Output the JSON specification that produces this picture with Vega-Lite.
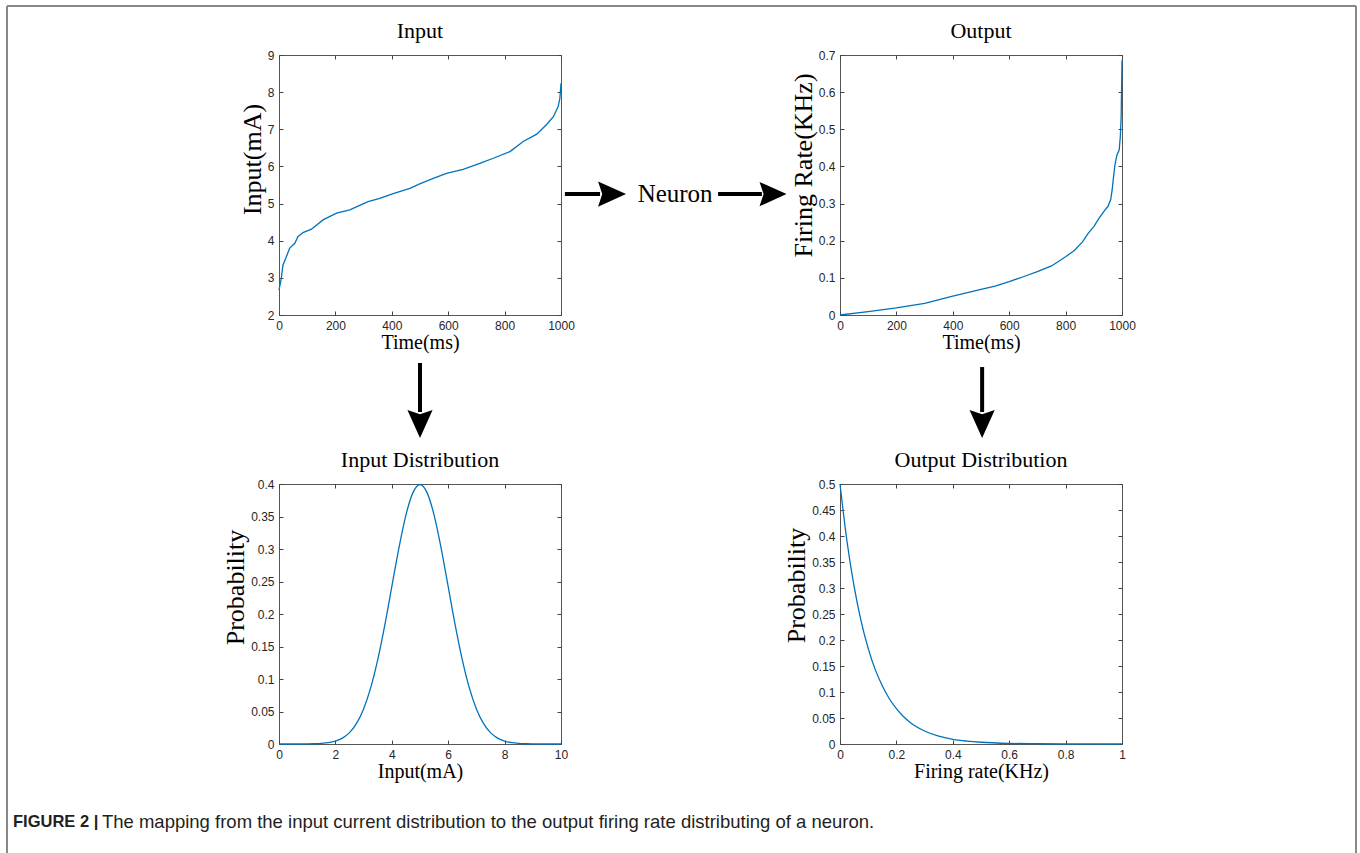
{
 "$schema": "https://vega.github.io/schema/vega-lite/v6.json",
 "background": "white",
 "padding": {"left": 6, "top": 5, "right": 0, "bottom": 0},
 "columns": 5,
 "spacing": 0,
 "bounds": "flush",
 "config": {
  "view": {"stroke": null},
  "axis": {"domain": false, "grid": false, "tickSize": -4, "tickColor": "#444", "tickWidth": 1, "labelFont": "Liberation Sans Narrow, Liberation Sans, sans-serif", "labelFontSize": 12, "labelColor": "#262626", "labelPadding": 9, "labelFlush": false, "labelOverlap": false, "titleFont": "Liberation Serif", "titleFontWeight": "normal", "titleColor": "#000"},
  "axisX": {"titleFontSize": 20, "titlePadding": 1},
  "axisY": {"titleFontSize": 26, "titlePadding": 2},
  "title": {"font": "Liberation Serif", "fontSize": 22, "fontWeight": "normal", "color": "#000", "offset": 6, "frame": "group", "anchor": "middle"}
 },
 "datasets": {
  "input": [
   {"time": 0, "input": 2.67}, {"time": 8, "input": 2.98}, {"time": 14, "input": 3.34}, {"time": 26, "input": 3.57},
   {"time": 38, "input": 3.8}, {"time": 56, "input": 3.93}, {"time": 67, "input": 4.11}, {"time": 85, "input": 4.22},
   {"time": 115, "input": 4.31}, {"time": 156, "input": 4.56}, {"time": 204, "input": 4.74}, {"time": 251, "input": 4.83},
   {"time": 298, "input": 4.99}, {"time": 316, "input": 5.05}, {"time": 357, "input": 5.14}, {"time": 405, "input": 5.27},
   {"time": 464, "input": 5.41}, {"time": 499, "input": 5.53}, {"time": 547, "input": 5.68}, {"time": 594, "input": 5.81},
   {"time": 653, "input": 5.92}, {"time": 712, "input": 6.08}, {"time": 760, "input": 6.22}, {"time": 819, "input": 6.4},
   {"time": 866, "input": 6.67}, {"time": 914, "input": 6.87}, {"time": 949, "input": 7.13}, {"time": 973, "input": 7.34},
   {"time": 990, "input": 7.61}, {"time": 996, "input": 7.83}, {"time": 1000, "input": 8.24}
  ],
  "output": [
   {"time": 0, "rate": 0}, {"time": 100, "rate": 0.009}, {"time": 200, "rate": 0.019}, {"time": 300, "rate": 0.031},
   {"time": 400, "rate": 0.051}, {"time": 500, "rate": 0.069}, {"time": 550, "rate": 0.078}, {"time": 600, "rate": 0.09},
   {"time": 650, "rate": 0.103}, {"time": 700, "rate": 0.117}, {"time": 750, "rate": 0.132}, {"time": 800, "rate": 0.157},
   {"time": 830, "rate": 0.173}, {"time": 860, "rate": 0.197}, {"time": 880, "rate": 0.22}, {"time": 900, "rate": 0.238},
   {"time": 920, "rate": 0.262}, {"time": 940, "rate": 0.283}, {"time": 950, "rate": 0.292}, {"time": 960, "rate": 0.311},
   {"time": 965, "rate": 0.336}, {"time": 970, "rate": 0.372}, {"time": 975, "rate": 0.404}, {"time": 982, "rate": 0.431},
   {"time": 990, "rate": 0.444}, {"time": 994, "rate": 0.48}, {"time": 997, "rate": 0.533}, {"time": 1000, "rate": 0.686}
  ],
  "inputDist": [
   {"current": 0, "probability": 0}, {"current": 0.5, "probability": 0.00002}, {"current": 1, "probability": 0.00013},
   {"current": 1.25, "probability": 0.00035}, {"current": 1.5, "probability": 0.00087}, {"current": 1.75, "probability": 0.002},
   {"current": 2, "probability": 0.0044}, {"current": 2.25, "probability": 0.0091}, {"current": 2.5, "probability": 0.0175},
   {"current": 2.75, "probability": 0.0317}, {"current": 3, "probability": 0.054}, {"current": 3.25, "probability": 0.0863},
   {"current": 3.5, "probability": 0.1295}, {"current": 3.75, "probability": 0.1826}, {"current": 4, "probability": 0.242},
   {"current": 4.25, "probability": 0.3011}, {"current": 4.5, "probability": 0.3521}, {"current": 4.75, "probability": 0.3867},
   {"current": 5, "probability": 0.3989}, {"current": 5.25, "probability": 0.3867}, {"current": 5.5, "probability": 0.3521},
   {"current": 5.75, "probability": 0.3011}, {"current": 6, "probability": 0.242}, {"current": 6.25, "probability": 0.1826},
   {"current": 6.5, "probability": 0.1295}, {"current": 6.75, "probability": 0.0863}, {"current": 7, "probability": 0.054},
   {"current": 7.25, "probability": 0.0317}, {"current": 7.5, "probability": 0.0175}, {"current": 7.75, "probability": 0.0091},
   {"current": 8, "probability": 0.0044}, {"current": 8.25, "probability": 0.002}, {"current": 8.5, "probability": 0.00087},
   {"current": 8.75, "probability": 0.00035}, {"current": 9, "probability": 0.00013}, {"current": 9.5, "probability": 0.00002},
   {"current": 10, "probability": 0}
  ],
  "outputDist": [
   {"rate": 0, "probability": 0.5}, {"rate": 0.025, "probability": 0.389}, {"rate": 0.05, "probability": 0.303},
   {"rate": 0.075, "probability": 0.236}, {"rate": 0.1, "probability": 0.184}, {"rate": 0.125, "probability": 0.143},
   {"rate": 0.15, "probability": 0.112}, {"rate": 0.175, "probability": 0.087}, {"rate": 0.2, "probability": 0.068},
   {"rate": 0.225, "probability": 0.053}, {"rate": 0.25, "probability": 0.041}, {"rate": 0.3, "probability": 0.025},
   {"rate": 0.35, "probability": 0.015}, {"rate": 0.4, "probability": 0.009}, {"rate": 0.45, "probability": 0.0056},
   {"rate": 0.5, "probability": 0.0034}, {"rate": 0.6, "probability": 0.0012}, {"rate": 0.7, "probability": 0.0005},
   {"rate": 0.8, "probability": 0.0002}, {"rate": 0.9, "probability": 0.0001}, {"rate": 1, "probability": 0}
  ]
 },
 "concat": [
  {"width": 272, "height": 49, "data": {"values": [{}]}, "layer": [
   {"mark": {"type": "rule", "color": "#888", "strokeWidth": 2}, "encoding": {"x": {"datum": 0, "type": "quantitative", "scale": {"domain": [0, 1]}, "axis": null}}},
   {"mark": {"type": "rule", "color": "#888", "strokeWidth": 2}, "encoding": {"y": {"datum": 1, "type": "quantitative", "scale": {"domain": [0, 1]}, "axis": null}}}
  ]},
  {"width": 282, "height": 49, "data": {"values": [{}]}, "mark": {"type": "rule", "color": "#888", "strokeWidth": 2}, "encoding": {"y": {"datum": 1, "type": "quantitative", "scale": {"domain": [0, 1]}, "axis": null}}},
  {"width": 279, "height": 49, "data": {"values": [{}]}, "mark": {"type": "rule", "color": "#888", "strokeWidth": 2}, "encoding": {"y": {"datum": 1, "type": "quantitative", "scale": {"domain": [0, 1]}, "axis": null}}},
  {"width": 282, "height": 49, "data": {"values": [{}]}, "mark": {"type": "rule", "color": "#888", "strokeWidth": 2}, "encoding": {"y": {"datum": 1, "type": "quantitative", "scale": {"domain": [0, 1]}, "axis": null}}},
  {"width": 234, "height": 49, "data": {"values": [{}]}, "layer": [
   {"mark": {"type": "rule", "color": "#888", "strokeWidth": 2}, "encoding": {"x": {"datum": 1, "type": "quantitative", "scale": {"domain": [0, 1]}, "axis": null}}},
   {"mark": {"type": "rule", "color": "#888", "strokeWidth": 2}, "encoding": {"y": {"datum": 1, "type": "quantitative", "scale": {"domain": [0, 1]}, "axis": null}}}
  ]},

  {"width": 272, "height": 260, "data": {"values": [{}]}, "mark": {"type": "rule", "color": "#888", "strokeWidth": 2}, "encoding": {"x": {"datum": 0, "type": "quantitative", "scale": {"domain": [0, 1]}, "axis": null}}},
  {
   "width": 282, "height": 260,
   "view": {"stroke": "#555", "strokeWidth": 1},
   "title": "Input",
   "data": {"name": "input"},
   "layer": [
    {"mark": {"type": "line", "color": "#0072BD", "strokeWidth": 1.3},
     "encoding": {
      "x": {"field": "time", "type": "quantitative", "scale": {"domain": [0, 1000], "nice": false}, "axis": {"values": [0, 200, 400, 600, 800, 1000], "format": "d", "title": "Time(ms)"}},
      "y": {"field": "input", "type": "quantitative", "scale": {"domain": [2, 9], "nice": false, "zero": false}, "axis": {"values": [2, 3, 4, 5, 6, 7, 8, 9], "title": "Input(mA)", "titleY": 104}}}},
    {"mark": {"type": "line", "opacity": 0},
     "encoding": {
      "x": {"field": "time", "type": "quantitative", "scale": {"domain": [0, 1000], "nice": false}, "axis": {"orient": "top", "values": [0, 200, 400, 600, 800, 1000], "labels": false, "title": null}},
      "y": {"field": "input", "type": "quantitative", "scale": {"domain": [2, 9], "nice": false, "zero": false}, "axis": {"orient": "right", "values": [2, 3, 4, 5, 6, 7, 8, 9], "labels": false, "title": null}}}}
   ],
   "resolve": {"axis": {"x": "independent", "y": "independent"}}
  },
  {"width": 279, "height": 260, "data": {"values": [{}]}, "layer": [
   {"mark": {"type": "rule", "color": "black", "strokeWidth": 4}, "encoding": {"x": {"datum": 0.014, "type": "quantitative", "scale": {"domain": [0, 1]}, "axis": null}, "x2": {"datum": 0.14}, "y": {"datum": 0.465, "type": "quantitative", "scale": {"domain": [0, 1]}, "axis": null}}},
   {"mark": {"type": "point", "shape": "M1,0L-1,-0.9L-0.7,0L-1,0.9Z", "filled": true, "color": "black", "opacity": 1, "size": 784}, "encoding": {"x": {"datum": 0.183, "type": "quantitative"}, "y": {"datum": 0.465, "type": "quantitative"}}},
   {"mark": {"type": "text", "font": "Liberation Serif", "fontSize": 25, "color": "black", "align": "center", "baseline": "middle"}, "encoding": {"x": {"datum": 0.409, "type": "quantitative"}, "y": {"datum": 0.465, "type": "quantitative"}, "text": {"value": "Neuron"}}},
   {"mark": {"type": "rule", "color": "black", "strokeWidth": 4}, "encoding": {"x": {"datum": 0.563, "type": "quantitative"}, "x2": {"datum": 0.72}, "y": {"datum": 0.465, "type": "quantitative"}}},
   {"mark": {"type": "point", "shape": "M1,0L-1,-0.9L-0.7,0L-1,0.9Z", "filled": true, "color": "black", "opacity": 1, "size": 729}, "encoding": {"x": {"datum": 0.76, "type": "quantitative"}, "y": {"datum": 0.465, "type": "quantitative"}}}
  ]},
  {
   "width": 282, "height": 260,
   "view": {"stroke": "#555", "strokeWidth": 1},
   "title": "Output",
   "data": {"name": "output"},
   "layer": [
    {"mark": {"type": "line", "color": "#0072BD", "strokeWidth": 1.3},
     "encoding": {
      "x": {"field": "time", "type": "quantitative", "scale": {"domain": [0, 1000], "nice": false}, "axis": {"values": [0, 200, 400, 600, 800, 1000], "format": "d", "title": "Time(ms)"}},
      "y": {"field": "rate", "type": "quantitative", "scale": {"domain": [0, 0.7], "nice": false}, "axis": {"values": [0, 0.1, 0.2, 0.3, 0.4, 0.5, 0.6, 0.7], "format": "~g", "title": "Firing Rate(KHz)", "titleY": 110}}}},
    {"mark": {"type": "line", "opacity": 0},
     "encoding": {
      "x": {"field": "time", "type": "quantitative", "scale": {"domain": [0, 1000], "nice": false}, "axis": {"orient": "top", "values": [0, 200, 400, 600, 800, 1000], "labels": false, "title": null}},
      "y": {"field": "rate", "type": "quantitative", "scale": {"domain": [0, 0.7], "nice": false}, "axis": {"orient": "right", "values": [0, 0.1, 0.2, 0.3, 0.4, 0.5, 0.6, 0.7], "labels": false, "title": null}}}}
   ],
   "resolve": {"axis": {"x": "independent", "y": "independent"}}
  },
  {"width": 234, "height": 260, "data": {"values": [{}]}, "mark": {"type": "rule", "color": "#888", "strokeWidth": 2}, "encoding": {"x": {"datum": 1, "type": "quantitative", "scale": {"domain": [0, 1]}, "axis": null}}},

  {"width": 272, "height": 169, "data": {"values": [{}]}, "mark": {"type": "rule", "color": "#888", "strokeWidth": 2}, "encoding": {"x": {"datum": 0, "type": "quantitative", "scale": {"domain": [0, 1]}, "axis": null}}},
  {"width": 282, "height": 169, "data": {"values": [{}]}, "layer": [
   {"mark": {"type": "rule", "color": "black", "strokeWidth": 4}, "encoding": {"x": {"datum": 0.5, "type": "quantitative", "scale": {"domain": [0, 1]}, "axis": null}, "y": {"datum": 0.716, "type": "quantitative", "scale": {"domain": [0, 1]}, "axis": null}, "y2": {"datum": 0.426}}},
   {"mark": {"type": "point", "shape": "M0,1L-0.9,-1L0,-0.7L0.9,-1Z", "filled": true, "color": "black", "opacity": 1, "size": 784}, "encoding": {"x": {"datum": 0.5, "type": "quantitative"}, "y": {"datum": 0.355, "type": "quantitative"}}}
  ]},
  {"width": 279, "height": 169, "data": {"values": []}, "mark": "point"},
  {"width": 282, "height": 169, "data": {"values": [{}]}, "layer": [
   {"mark": {"type": "rule", "color": "black", "strokeWidth": 4}, "encoding": {"x": {"datum": 0.504, "type": "quantitative", "scale": {"domain": [0, 1]}, "axis": null}, "y": {"datum": 0.692, "type": "quantitative", "scale": {"domain": [0, 1]}, "axis": null}, "y2": {"datum": 0.426}}},
   {"mark": {"type": "point", "shape": "M0,1L-0.9,-1L0,-0.7L0.9,-1Z", "filled": true, "color": "black", "opacity": 1, "size": 784}, "encoding": {"x": {"datum": 0.504, "type": "quantitative"}, "y": {"datum": 0.355, "type": "quantitative"}}}
  ]},
  {"width": 234, "height": 169, "data": {"values": [{}]}, "mark": {"type": "rule", "color": "#888", "strokeWidth": 2}, "encoding": {"x": {"datum": 1, "type": "quantitative", "scale": {"domain": [0, 1]}, "axis": null}}},

  {"width": 272, "height": 260, "data": {"values": [{}]}, "mark": {"type": "rule", "color": "#888", "strokeWidth": 2}, "encoding": {"x": {"datum": 0, "type": "quantitative", "scale": {"domain": [0, 1]}, "axis": null}}},
  {
   "width": 282, "height": 260,
   "view": {"stroke": "#555", "strokeWidth": 1},
   "title": "Input Distribution",
   "data": {"name": "inputDist"},
   "layer": [
    {"mark": {"type": "line", "color": "#0072BD", "strokeWidth": 1.3, "interpolate": "monotone"},
     "encoding": {
      "x": {"field": "current", "type": "quantitative", "scale": {"domain": [0, 10], "nice": false}, "axis": {"values": [0, 2, 4, 6, 8, 10], "title": "Input(mA)"}},
      "y": {"field": "probability", "type": "quantitative", "scale": {"domain": [0, 0.4], "nice": false}, "axis": {"values": [0, 0.05, 0.1, 0.15, 0.2, 0.25, 0.3, 0.35, 0.4], "format": "~g", "title": "Probability", "titleY": 103}}}},
    {"mark": {"type": "line", "opacity": 0},
     "encoding": {
      "x": {"field": "current", "type": "quantitative", "scale": {"domain": [0, 10], "nice": false}, "axis": {"orient": "top", "values": [0, 2, 4, 6, 8, 10], "labels": false, "title": null}},
      "y": {"field": "probability", "type": "quantitative", "scale": {"domain": [0, 0.4], "nice": false}, "axis": {"orient": "right", "values": [0, 0.05, 0.1, 0.15, 0.2, 0.25, 0.3, 0.35, 0.4], "labels": false, "title": null}}}}
   ],
   "resolve": {"axis": {"x": "independent", "y": "independent"}}
  },
  {"width": 279, "height": 260, "data": {"values": []}, "mark": "point"},
  {
   "width": 282, "height": 260,
   "view": {"stroke": "#555", "strokeWidth": 1},
   "title": "Output Distribution",
   "data": {"name": "outputDist"},
   "layer": [
    {"mark": {"type": "line", "color": "#0072BD", "strokeWidth": 1.3, "interpolate": "monotone"},
     "encoding": {
      "x": {"field": "rate", "type": "quantitative", "scale": {"domain": [0, 1], "nice": false}, "axis": {"values": [0, 0.2, 0.4, 0.6, 0.8, 1], "format": "~g", "title": "Firing rate(KHz)"}},
      "y": {"field": "probability", "type": "quantitative", "scale": {"domain": [0, 0.5], "nice": false}, "axis": {"values": [0, 0.05, 0.1, 0.15, 0.2, 0.25, 0.3, 0.35, 0.4, 0.45, 0.5], "format": "~g", "title": "Probability", "titleY": 101}}}},
    {"mark": {"type": "line", "opacity": 0},
     "encoding": {
      "x": {"field": "rate", "type": "quantitative", "scale": {"domain": [0, 1], "nice": false}, "axis": {"orient": "top", "values": [0, 0.2, 0.4, 0.6, 0.8, 1], "labels": false, "title": null}},
      "y": {"field": "probability", "type": "quantitative", "scale": {"domain": [0, 0.5], "nice": false}, "axis": {"orient": "right", "values": [0, 0.05, 0.1, 0.15, 0.2, 0.25, 0.3, 0.35, 0.4, 0.45, 0.5], "labels": false, "title": null}}}}
   ],
   "resolve": {"axis": {"x": "independent", "y": "independent"}}
  },
  {"width": 234, "height": 260, "data": {"values": [{}]}, "mark": {"type": "rule", "color": "#888", "strokeWidth": 2}, "encoding": {"x": {"datum": 1, "type": "quantitative", "scale": {"domain": [0, 1]}, "axis": null}}},

  {"width": 272, "height": 109, "data": {"values": [{}]}, "layer": [
   {"mark": {"type": "rule", "color": "#888", "strokeWidth": 2}, "encoding": {"x": {"datum": 0, "type": "quantitative", "scale": {"domain": [0, 1]}, "axis": null}}},
   {"mark": {"type": "text", "font": "Liberation Sans", "fontSize": 16.5, "fontWeight": "bold", "color": "#231f20", "align": "left", "baseline": "middle"}, "encoding": {"x": {"datum": 0.022, "type": "quantitative"}, "y": {"datum": 0.284, "type": "quantitative", "scale": {"domain": [0, 1]}, "axis": null}, "text": {"value": "FIGURE 2 |"}}},
   {"mark": {"type": "text", "font": "Liberation Sans", "fontSize": 18.5, "color": "#231f20", "align": "left", "baseline": "middle"}, "encoding": {"x": {"datum": 0.349, "type": "quantitative"}, "y": {"datum": 0.284, "type": "quantitative"}, "text": {"value": "The mapping from the input current distribution to the output firing rate distributing of a neuron."}}}
  ]},
  {"width": 282, "height": 109, "data": {"values": []}, "mark": "point"},
  {"width": 279, "height": 109, "data": {"values": []}, "mark": "point"},
  {"width": 282, "height": 109, "data": {"values": []}, "mark": "point"},
  {"width": 234, "height": 109, "data": {"values": [{}]}, "mark": {"type": "rule", "color": "#888", "strokeWidth": 2}, "encoding": {"x": {"datum": 1, "type": "quantitative", "scale": {"domain": [0, 1]}, "axis": null}}}
 ]
}
